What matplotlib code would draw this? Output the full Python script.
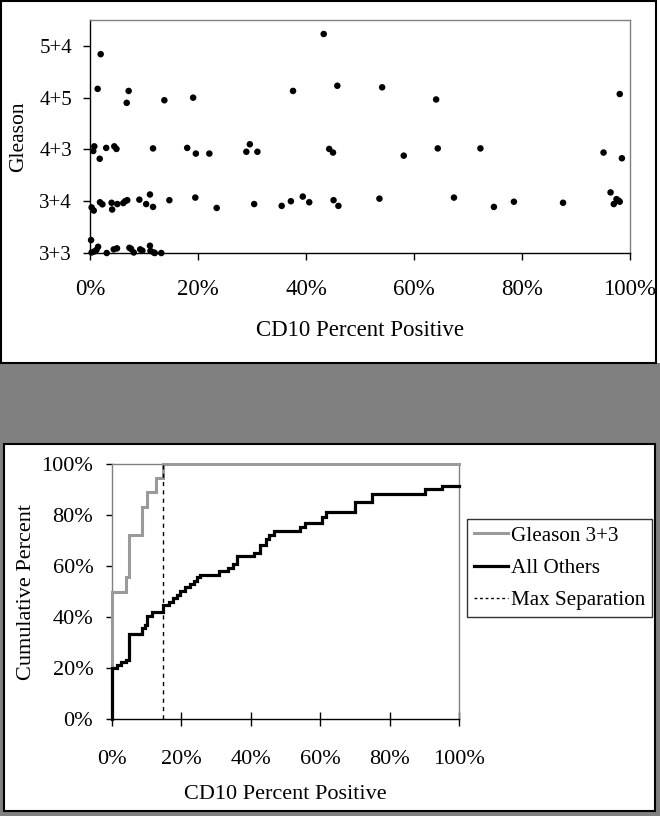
import matplotlib
matplotlib.use('Agg')
import matplotlib.pyplot as plt
from matplotlib.patches import Rectangle
from matplotlib.lines import Line2D

plt.rcParams['font.family'] = ['Liberation Serif', 'DejaVu Serif']

# ---------------- data: top scatter (x = CD10 fraction positive, y = jittered grade level) ----
grade_labels = ['3+3', '3+4', '4+3', '4+5', '5+4']
grade_ticks = [1, 2, 3, 4, 5]

g33_sx = [0.002, 0.003, 0.008, 0.012, 0.015, 0.031, 0.044, 0.050, 0.073, 0.076,
          0.081, 0.093, 0.097, 0.111, 0.112, 0.118, 0.120, 0.132]
g33_sy = [1.25, 1.01, 1.03, 1.06, 1.12, 1.00, 1.07, 1.09, 1.10, 1.08,
          1.01, 1.07, 1.045, 1.14, 1.04, 1.01, 1.00, 1.00]

g34_x = [0.003, 0.007, 0.0185, 0.023, 0.040, 0.041, 0.0506, 0.0617, 0.065, 0.069,
         0.0914, 0.104, 0.111, 0.1167, 0.147, 0.195, 0.2346,
         0.304, 0.355, 0.372, 0.394, 0.406, 0.451, 0.460, 0.536,
         0.674, 0.748, 0.785, 0.876, 0.964, 0.970, 0.975, 0.979, 0.981]
g34_y = [1.88, 1.82, 1.98, 1.94, 1.97, 1.84, 1.945, 1.965, 2.00, 2.02,
         2.03, 1.945, 2.13, 1.89, 2.02, 2.07, 1.87,
         1.945, 1.91, 2.00, 2.09, 1.98, 2.02, 1.91, 2.05,
         2.07, 1.89, 1.99, 1.97, 2.17, 1.945, 2.04, 2.01, 1.99]

g43_x = [0.008, 0.006, 0.018, 0.030, 0.045, 0.049, 0.1167, 0.180, 0.196, 0.221,
         0.2895, 0.296, 0.310, 0.443, 0.450, 0.581, 0.644, 0.723, 0.951, 0.985]
g43_y = [3.06, 2.97, 2.82, 3.03, 3.06, 3.01, 3.02, 3.03, 2.92, 2.92,
         2.955, 3.10, 2.955, 3.01, 2.94, 2.88, 3.02, 3.02, 2.94, 2.83]

g45_x = [0.0142, 0.068, 0.0716, 0.1377, 0.191, 0.376, 0.458, 0.541, 0.641, 0.981]
g45_y = [4.17, 3.90, 4.13, 3.95, 4.00, 4.13, 4.23, 4.20, 3.965, 4.07]

g54_x = [0.0198, 0.4328]
g54_y = [4.84, 5.23]

# ---------------- data: bottom cumulative curves (jump positions and level after jump) ----
cum33_x = [0.0, 0.040, 0.050, 0.086, 0.100, 0.126, 0.148, 1.0]
cum33_y = [0.500, 0.556, 0.722, 0.833, 0.889, 0.944, 1.000, 1.000]

other_x = [0.0, 0.013, 0.026, 0.039, 0.048, 0.0855, 0.095, 0.102, 0.114, 0.148,
           0.163, 0.177, 0.187, 0.197, 0.210, 0.225, 0.236, 0.245, 0.255, 0.309,
           0.333, 0.348, 0.360, 0.410, 0.427, 0.443, 0.452, 0.467, 0.542, 0.555,
           0.606, 0.616, 0.700, 0.748, 0.902, 0.952, 1.0]
other_y = [0.200, 0.212, 0.222, 0.233, 0.333, 0.355, 0.369, 0.402, 0.420, 0.447,
           0.460, 0.474, 0.488, 0.502, 0.516, 0.530, 0.543, 0.557, 0.566, 0.580,
           0.593, 0.609, 0.639, 0.652, 0.681, 0.705, 0.723, 0.737, 0.754, 0.768,
           0.792, 0.811, 0.852, 0.881, 0.902, 0.914, 0.914]

max_sep_x = 0.148

pct_ticks = [0, 0.2, 0.4, 0.6, 0.8, 1.0]
pct_labels = ['0%', '20%', '40%', '60%', '80%', '100%']

# ---------------- figure ----------------
W, H = 660, 816
fig = plt.figure(figsize=(W / 100, H / 100), dpi=100)
fig.patch.set_facecolor('white')


def fx(px):
    return px / W


def fy(py):
    return 1 - py / H


def box(x0, y0, x1, y1, **kw):
    r = Rectangle((fx(x0), fy(y1)), fx(x1) - fx(x0), fy(y0) - fy(y1),
                  transform=fig.transFigure, zorder=-5, **kw)
    fig.patches.append(r)


box(0, 363, 660, 816, facecolor='#808080', edgecolor='none')
box(0.8, 0.8, 656, 362.5, facecolor='white', edgecolor='black', lw=1.5)
box(4, 444, 655, 811, facecolor='white', edgecolor='black', lw=1.5)

# ---------------- top scatter ----------------
ax1 = fig.add_axes([fx(90), fy(253), fx(630) - fx(90), fy(20) - fy(253)])
ax1.set_facecolor('white')
for xs, ys in [(g33_sx, g33_sy), (g34_x, g34_y), (g43_x, g43_y), (g45_x, g45_y), (g54_x, g54_y)]:
    ax1.scatter(xs, ys, s=22, color='black', edgecolors='none', zorder=3, clip_on=False)
ax1.set_xlim(0, 1)
ax1.set_ylim(1, 5.5)
ax1.set_yticks(grade_ticks)
ax1.set_yticklabels(grade_labels)
ax1.set_xticks(pct_ticks)
ax1.set_xticklabels(pct_labels)
for s in ['top', 'right']:
    ax1.spines[s].set_color('#808080')
    ax1.spines[s].set_linewidth(1)
for s in ['left', 'bottom']:
    ax1.spines[s].set_color('black')
    ax1.spines[s].set_linewidth(1)
ax1.tick_params(axis='y', direction='out', length=5, width=1, pad=8, labelsize=15)
ax1.tick_params(axis='x', direction='out', length=5, width=1, pad=14, labelsize=16.5)
ax1.set_xlabel('CD10 Percent Positive', fontsize=16.5, labelpad=14)
ax1.set_ylabel('Gleason', fontsize=15.5, labelpad=8)

# ---------------- bottom cumulative ----------------
ax2 = fig.add_axes([fx(112), fy(719), fx(459) - fx(112), fy(464) - fy(719)])
ax2.set_facecolor('white')
ax2.plot([0] + cum33_x, [0] + cum33_y, drawstyle='steps-post', color='#9a9a9a',
         lw=2.2, zorder=3, clip_on=False, solid_joinstyle='miter')
ax2.plot([0] + other_x, [0] + other_y, drawstyle='steps-post', color='black',
         lw=2.3, zorder=4, clip_on=False, solid_joinstyle='miter')
ax2.plot([max_sep_x, max_sep_x], [0, 1], color='black', lw=1, ls=(0, (3, 3)), zorder=5)
ax2.set_xlim(0, 1)
ax2.set_ylim(0, 1)
ax2.set_xticks(pct_ticks)
ax2.set_xticklabels(pct_labels)
ax2.set_yticks(pct_ticks)
ax2.set_yticklabels(pct_labels)
for s in ['top', 'right', 'left']:
    ax2.spines[s].set_color('#808080')
    ax2.spines[s].set_linewidth(1)
ax2.spines['bottom'].set_color('black')
ax2.spines['bottom'].set_linewidth(1)
ax2.tick_params(axis='y', direction='out', length=4.5, width=1, pad=9, labelsize=16)
ax2.tick_params(axis='x', direction='inout', length=10, width=1, pad=17, labelsize=16)
ax2.set_xlabel('CD10 Percent Positive', fontsize=16, labelpad=12)
ax2.set_ylabel('Cumulative Percent', fontsize=16, labelpad=4)

handles = [Line2D([], [], color='#9a9a9a', lw=2.2),
           Line2D([], [], color='black', lw=2.3),
           Line2D([], [], color='black', lw=1, ls=(0, (2, 2)))]
leg = fig.legend(handles, ['Gleason 3+3', 'All Others', 'Max Separation'],
                 loc='upper left', bbox_to_anchor=(fx(467), fy(519)),
                 bbox_transform=fig.transFigure, fontsize=15.2, frameon=True,
                 fancybox=False, borderaxespad=0, borderpad=0.32, handlelength=1.6,
                 handletextpad=0.15, labelspacing=0.6)
leg.get_frame().set_edgecolor('black')
leg.get_frame().set_linewidth(1)

fig.savefig('out.png', dpi=100, facecolor=fig.get_facecolor())
